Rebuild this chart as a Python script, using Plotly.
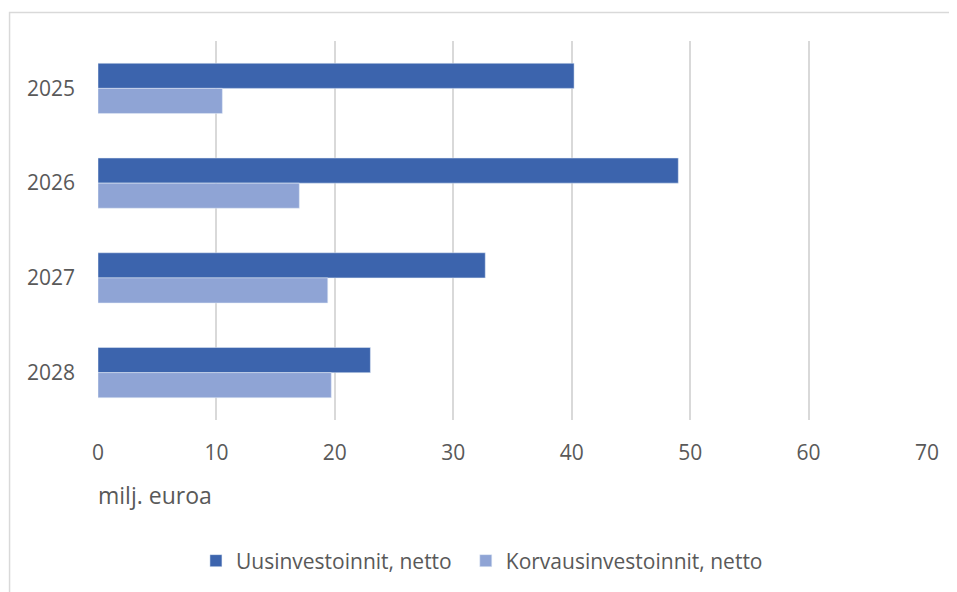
import plotly.graph_objects as go

years = ["2025", "2026", "2027", "2028"]
uusi = [40.2, 49.0, 32.7, 23.0]
korvaus = [10.5, 17.0, 19.4, 19.7]
x_ticks = [0, 10, 20, 30, 40, 50, 60, 70]

# page body has an 8px default margin, so figure coordinates = page coordinates - 8
OFF = 8
W, H = 957, 592
L = 98 - OFF
T = 41 - OFF
R = W - (927.5 - OFF)
B = H - (420 - OFF)
pw, ph = W - L - R, H - T - B

def px_to_paper_x(px):
    return (px - OFF - L) / pw

def px_to_paper_y(py):
    return (H - B - (py - OFF)) / ph

font_family = "Open Sans"
txt_color = "#595959"

fig = go.Figure()
fig.add_trace(go.Bar(y=years, x=uusi, orientation="h", name="Uusinvestoinnit, netto",
                     marker=dict(color="#3C64AD"), legend="legend"))
fig.add_trace(go.Bar(y=years, x=korvaus, orientation="h", name="Korvausinvestoinnit, netto",
                     marker=dict(color="#8FA4D5"), legend="legend2"))

leg_common = dict(orientation="h", yanchor="middle", y=px_to_paper_y(561),
                  xanchor="left", font=dict(size=21, color=txt_color),
                  bgcolor="rgba(0,0,0,0)")

fig.update_layout(
    width=W, height=H,
    margin=dict(l=L, r=R, t=T, b=B, autoexpand=False),
    paper_bgcolor="white", plot_bgcolor="white",
    barmode="group", bargap=0.47, bargroupgap=0,
    font=dict(family=font_family, size=21, color=txt_color),
    xaxis=dict(range=[0, 70], tickvals=x_ticks, showgrid=True, gridcolor="#D9D9D9",
               gridwidth=1.5, zeroline=False, showline=False, ticks="",
               ticklabelstandoff=18,
               tickfont=dict(size=21, color=txt_color)),
    yaxis=dict(autorange="reversed", showgrid=False, zeroline=False, showline=False,
               ticks="", ticklabelstandoff=22, tickfont=dict(size=21, color=txt_color)),
    showlegend=True,
    legend=dict(x=px_to_paper_x(196), **leg_common),
    legend2=dict(x=px_to_paper_x(466), **leg_common),
    annotations=[dict(text="milj. euroa", xref="paper", yref="paper",
                      x=px_to_paper_x(96), y=px_to_paper_y(495), xanchor="left",
                      yanchor="middle", showarrow=False,
                      font=dict(size=23, color=txt_color))],
    shapes=[dict(type="rect", xref="paper", yref="paper",
                 x0=px_to_paper_x(9.5), x1=px_to_paper_x(975),
                 y0=px_to_paper_y(620), y1=px_to_paper_y(12.5),
                 line=dict(color="#D9D9D9", width=1.5), fillcolor="rgba(0,0,0,0)",
                 layer="below")],
)

fig.write_html("out.html")
